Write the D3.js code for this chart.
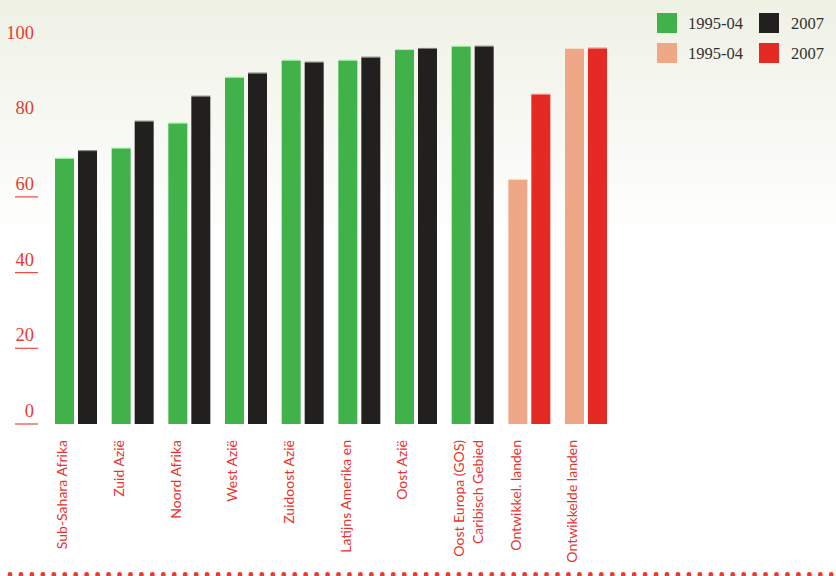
<!DOCTYPE html>
<html>
<head>
  <meta charset="UTF-8">
  <style>
    body { margin: 0; background: #fff; }
    svg { display: block; }
  </style>
</head>
<body>
<svg></svg>
<script src="https://d3js.org/d3.v7.min.js"></script>
<script>

let width = 836, height = 576;

// data
let regions = ["Sub-Sahara Afrika", "Zuid Azië", "Noord Afrika", "West Azië", "Zuidoost Azië",
    "Latijns Amerika  en", "Oost Azië", "Oost Europa (GOS)", "Ontwikkel. landen", "Ontwikkelde landen"];
let secondLine = ["", "", "", "", "", "", "", "Caribisch Gebied", "", ""];
let years = ["1995-04", "2007"];
let values1995 = [70.1, 72.8, 79.4, 91.5, 96.0, 96.0, 98.8, 99.7, 64.6, 99.2];
let values2007 = [72.1, 79.9, 86.5, 92.6, 95.5, 96.8, 99.1, 99.7, 87.0, 99.2];
let developed = [false, false, false, false, false, false, false, false, true, true];
let yTicks = [0, 20, 40, 60, 80, 100];
let underlined = [0, 20, 40, 60];

let colors = {
    dev: ["#41b14a", "#221f1f"],
    ind: ["#eea888", "#e42a22"]
};

let svg = d3.select("svg")
    .attr("width", width)
    .attr("height", height);

// background gradient
let defs = svg.append("defs");
let grad = defs.append("linearGradient")
    .attr("id", "bg")
    .attr("x1", 0).attr("y1", 0).attr("x2", 0).attr("y2", 1);
grad.append("stop").attr("offset", "0%").attr("stop-color", "#eff1e5");
grad.append("stop").attr("offset", "42%").attr("stop-color", "#ffffff");
grad.append("stop").attr("offset", "100%").attr("stop-color", "#ffffff");

svg.append("rect")
    .attr("width", width)
    .attr("height", height)
    .attr("fill", "url(#bg)");

// scales
let x = d3.scaleBand()
    .domain(regions)
    .range([55, 607])
    .paddingInner(0.259)
    .paddingOuter(0);

let xInner = d3.scaleBand()
    .domain(years)
    .range([0, x.bandwidth()])
    .paddingInner(0.174);

let y = d3.scaleLinear()
    .domain([0, 100])
    .range([424, 45.5]);

// y axis (custom red labels with underlines)
let yAxis = svg.append("g").attr("id", "yaxis");
yAxis.selectAll("text")
    .data(yTicks)
    .enter()
    .append("text")
    .attr("x", 34)
    .attr("y", d => y(d) - 7)
    .attr("text-anchor", "end")
    .attr("font-family", "Liberation Serif, DejaVu Serif, serif")
    .attr("font-size", 18.5)
    .attr("fill", "#e63b33")
    .text(d => d);
yAxis.selectAll("line")
    .data(underlined)
    .enter()
    .append("line")
    .attr("x1", 15)
    .attr("x2", 38)
    .attr("y1", d => y(d))
    .attr("y2", d => y(d))
    .attr("stroke", "#e84a42")
    .attr("stroke-width", 1.2);

// bars
let rows = regions.map((r, i) => ({
    region: r,
    vals: [values1995[i], values2007[i]],
    pal: developed[i] ? colors.ind : colors.dev
}));

let groups = svg.append("g")
    .attr("id", "bars")
    .selectAll("g")
    .data(rows)
    .enter()
    .append("g")
    .attr("transform", d => "translate(" + x(d.region) + ",0)");

groups.selectAll("rect")
    .data(d => d.vals.map((v, k) => ({year: years[k], value: v, color: d.pal[k]})))
    .enter()
    .append("rect")
    .attr("x", d => xInner(d.year))
    .attr("width", xInner.bandwidth())
    .attr("y", d => y(d.value))
    .attr("height", d => y(0) - y(d.value))
    .attr("fill", d => d.color);

// thin lighter cap on top of each bar
groups.selectAll("line")
    .data(d => d.vals.map((v, k) => ({year: years[k], value: v, color: d.pal[k]})))
    .enter()
    .append("line")
    .attr("x1", d => xInner(d.year))
    .attr("x2", d => xInner(d.year) + xInner.bandwidth())
    .attr("y1", d => y(d.value) - 0.5)
    .attr("y2", d => y(d.value) - 0.5)
    .attr("stroke", d => d3.color(d.color).brighter(1.2))
    .attr("stroke-opacity", 0.6);

// category labels (rotated)
let labels = svg.append("g").attr("id", "xlabels");
labels.selectAll("text.first")
    .data(rows)
    .enter()
    .append("text")
    .attr("class", "first")
    .attr("transform", d => "translate(" + (x(d.region) + xInner(years[0]) + xInner.bandwidth() / 2 - 2) + ",440) rotate(-90)")
    .attr("dy", "0.35em")
    .attr("text-anchor", "end")
    .attr("font-family", "Lato, Open Sans, sans-serif")
    .attr("font-size", 14)
    .attr("fill", "#e8322b")
    .text(d => d.region);

labels.selectAll("text.second")
    .data(regions.filter((r, i) => secondLine[i] !== ""))
    .enter()
    .append("text")
    .attr("class", "second")
    .attr("transform", d => "translate(" + (x(d) + xInner(years[1]) + xInner.bandwidth() / 2 - 6) + ",440) rotate(-90)")
    .attr("dy", "0.35em")
    .attr("text-anchor", "end")
    .attr("font-family", "Lato, Open Sans, sans-serif")
    .attr("font-size", 14)
    .attr("fill", "#e8322b")
    .text(d => secondLine[regions.indexOf(d)]);

// legend
let legendItems = [
    {label: years[0], color: colors.dev[0], col: 0, row: 0},
    {label: years[1], color: colors.dev[1], col: 1, row: 0},
    {label: years[0], color: colors.ind[0], col: 0, row: 1},
    {label: years[1], color: colors.ind[1], col: 1, row: 1}
];
let legend = svg.append("g")
    .attr("id", "legend")
    .attr("transform", "translate(657,13)");
let li = legend.selectAll("g")
    .data(legendItems)
    .enter()
    .append("g")
    .attr("transform", d => "translate(" + (d.col * 102) + "," + (d.row * 30) + ")");
li.append("rect")
    .attr("width", 20)
    .attr("height", 20)
    .attr("fill", d => d.color);
li.append("text")
    .attr("x", d => d.col === 0 ? 31 : 32)
    .attr("y", 10)
    .attr("dy", "0.35em")
    .attr("font-family", "Liberation Serif, DejaVu Serif, serif")
    .attr("font-size", 16.5)
    .attr("fill", "#333131")
    .text(d => d.label);

// dotted bottom border
let dots = d3.range(10, width + 5, 10.95);
svg.append("g")
    .attr("id", "dots")
    .selectAll("circle")
    .data(dots)
    .enter()
    .append("circle")
    .attr("cx", d => d)
    .attr("cy", 574.5)
    .attr("r", 2.4)
    .attr("fill", "#e63a33");

</script>
</body>
</html>
